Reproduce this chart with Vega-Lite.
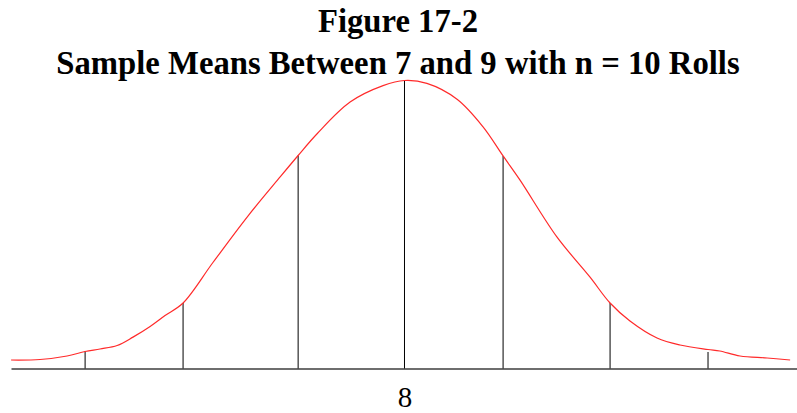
{
  "$schema": "https://vega.github.io/schema/vega-lite/v6.json",
  "width": 786,
  "height": 288,
  "autosize": {"type": "none"},
  "padding": {"left": 11, "top": 80.5, "right": 0, "bottom": 44.5},
  "background": "white",
  "title": {
    "text": ["Figure 17-2", "Sample Means Between 7 and 9 with n = 10 Rolls"],
    "font": "Liberation Serif",
    "fontSize": 32.7,
    "fontWeight": "bold",
    "color": "#000000",
    "anchor": "middle",
    "lineHeight": 42,
    "offset": -3,
    "dx": -6
  },
  "config": {
    "view": {"stroke": null}
  },
  "datasets": {
    "curve": [
      {"mean": 6.735, "density": 0.0295},
      {"mean": 6.828, "density": 0.0313},
      {"mean": 6.915, "density": 0.0434},
      {"mean": 6.973, "density": 0.059},
      {"mean": 7.021, "density": 0.0677},
      {"mean": 7.076, "density": 0.0799},
      {"mean": 7.127, "density": 0.109},
      {"mean": 7.182, "density": 0.146},
      {"mean": 7.230, "density": 0.184},
      {"mean": 7.288, "density": 0.2274},
      {"mean": 7.384, "density": 0.368},
      {"mean": 7.494, "density": 0.526},
      {"mean": 7.600, "density": 0.665},
      {"mean": 7.658, "density": 0.7396},
      {"mean": 7.719, "density": 0.815},
      {"mean": 7.825, "density": 0.925},
      {"mean": 7.931, "density": 0.982},
      {"mean": 8.000, "density": 1.0},
      {"mean": 8.072, "density": 0.99},
      {"mean": 8.169, "density": 0.935},
      {"mean": 8.252, "density": 0.84},
      {"mean": 8.317, "density": 0.738},
      {"mean": 8.371, "density": 0.655},
      {"mean": 8.490, "density": 0.457},
      {"mean": 8.596, "density": 0.318},
      {"mean": 8.661, "density": 0.2274},
      {"mean": 8.725, "density": 0.165},
      {"mean": 8.812, "density": 0.106},
      {"mean": 8.886, "density": 0.0816},
      {"mean": 8.976, "density": 0.066},
      {"mean": 9.014, "density": 0.0608},
      {"mean": 9.079, "density": 0.0434},
      {"mean": 9.166, "density": 0.0365},
      {"mean": 9.240, "density": 0.0295}
    ],
    "markers": [
      {"mean": 6.973, "density": 0.0608},
      {"mean": 7.288, "density": 0.2274},
      {"mean": 7.658, "density": 0.7396},
      {"mean": 8.000, "density": 1.0},
      {"mean": 8.317, "density": 0.7378},
      {"mean": 8.661, "density": 0.2274},
      {"mean": 8.976, "density": 0.0573}
    ]
  },
  "layer": [
    {
      "data": {"name": "markers"},
      "mark": {"type": "rule", "color": "#000000", "strokeWidth": 1},
      "encoding": {
        "x": {
          "field": "mean",
          "type": "quantitative",
          "scale": {"domain": [6.7347, 9.2621], "nice": false, "zero": false},
          "axis": {
            "values": [8],
            "format": "d",
            "title": null,
            "grid": false,
            "ticks": false,
            "domain": true,
            "domainColor": "#6e6e6e",
            "domainWidth": 2,
            "labelFont": "Liberation Serif",
            "labelFontSize": 29,
            "labelColor": "#000000",
            "labelPadding": 15
          }
        },
        "y": {
          "field": "density",
          "type": "quantitative",
          "scale": {"domain": [0, 1], "nice": false},
          "axis": null
        },
        "y2": {"datum": 0}
      }
    },
    {
      "data": {"name": "curve"},
      "mark": {"type": "line", "color": "#ff2a2a", "strokeWidth": 1.2, "interpolate": "catmull-rom"},
      "encoding": {
        "x": {"field": "mean", "type": "quantitative"},
        "y": {"field": "density", "type": "quantitative"}
      }
    }
  ]
}
